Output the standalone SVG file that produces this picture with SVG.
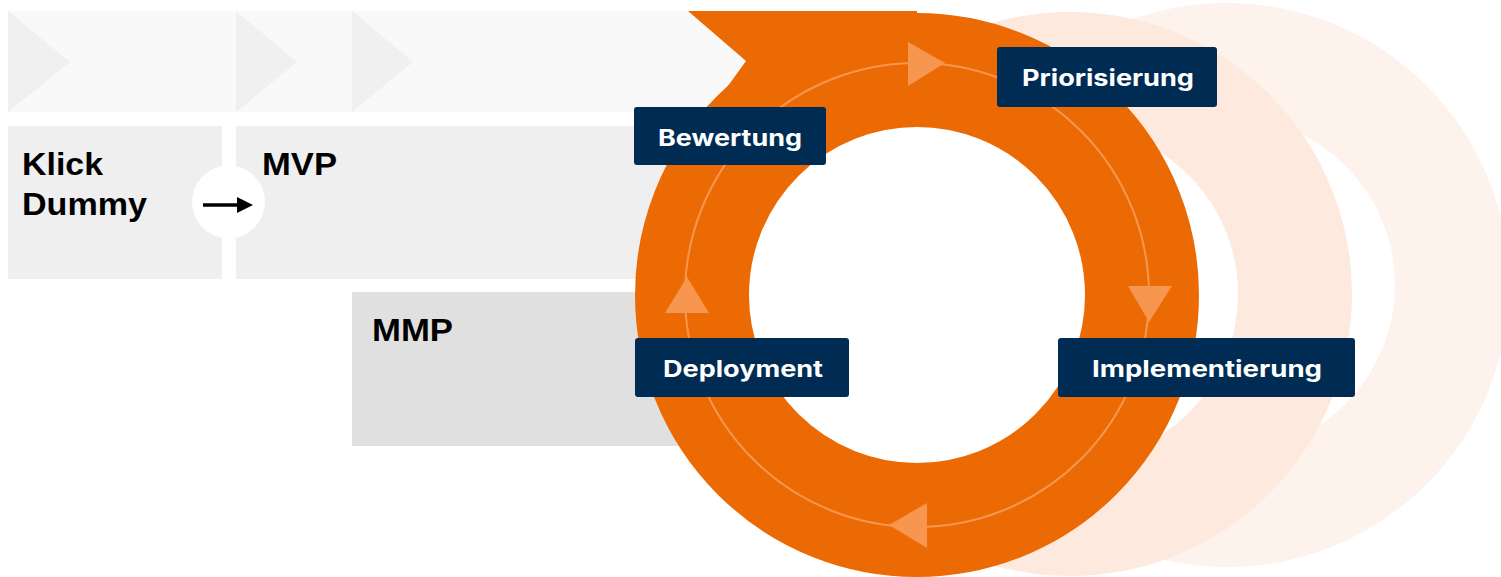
<svg xmlns="http://www.w3.org/2000/svg" width="1501" height="577" viewBox="0 0 1501 577">
<style>
.band{fill:#f9f9f9}
.chev{fill:#f0f0f0}
.box{fill:#efefef}
.box2{fill:#e0e0e0}
.phase{font-family:"Liberation Sans",Arial,sans-serif;font-weight:bold;font-size:31px;fill:#000}
.ring{fill:none;stroke-width:114}
.lbl{fill:#002c54}
.lbltxt{font-family:Inter,"Noto Sans",sans-serif;font-weight:700;font-size:23px;fill:#fff;text-anchor:middle}
.flow{fill:none;stroke:#f7964f;stroke-width:2}
.tri{fill:#f7964f}
</style>
<rect width="1501" height="577" fill="#fff"/>
<g id="timeline-band">
<rect class="band" x="8" y="11" width="909" height="101"/>
<polygon class="chev" points="8,11 70,62 8,112"/>
<polygon class="chev" points="236,11 297,62 236,112"/>
<polygon class="chev" points="352,11 413,62 352,112"/>
</g>
<g id="node-klick-dummy">
<rect class="box" x="8" y="126" width="214" height="153"/>
<text class="phase" x="22" y="175" textLength="81" lengthAdjust="spacingAndGlyphs">Klick</text>
<text class="phase" x="22" y="215" textLength="125" lengthAdjust="spacingAndGlyphs">Dummy</text>
</g>
<g id="node-mvp">
<rect class="box" x="236" y="126" width="484" height="153"/>
<text class="phase" x="262" y="175" textLength="75" lengthAdjust="spacingAndGlyphs">MVP</text>
</g>
<g id="node-mmp">
<rect class="box2" x="352" y="292" width="368" height="154"/>
<text class="phase" x="372" y="341" textLength="81" lengthAdjust="spacingAndGlyphs">MMP</text>
</g>
<g id="background-rings">
<circle class="ring" cx="1227" cy="285" r="225" stroke="#fdf2ec"/>
<circle class="ring" cx="1070" cy="294" r="225" stroke="#fde9dd"/>
</g>
<g id="cycle-ring">
<circle cx="917" cy="295" r="225" fill="#fff" stroke="#ec6a04" stroke-width="114"/>
<polygon fill="#ec6a04" points="688,11 917,11 917,100 680,200 660,180 746,61"/>
</g>
<g id="connectors">
<circle cx="228.5" cy="202" r="36.5" fill="#fff"/>
<line x1="203" y1="205" x2="239" y2="205" stroke="#000" stroke-width="3.5"/>
<polygon fill="#000" points="237,197 253,205 237,213"/>
<circle class="flow" cx="917" cy="295" r="232"/>
<polygon class="tri" points="908,42 945,63 908,86"/>
<polygon class="tri" points="1128,286 1172,286 1149,322"/>
<polygon class="tri" points="927,503 927,548 889,525"/>
<polygon class="tri" points="665,313 709,313 687,277"/>
</g>
<g id="node-bewertung">
<rect class="lbl" x="634" y="107" width="192" height="58" rx="3"/>
<text class="lbltxt" x="730" y="146" textLength="144" lengthAdjust="spacingAndGlyphs">Bewertung</text>
</g>
<g id="node-priorisierung">
<rect class="lbl" x="997" y="47" width="220" height="60" rx="3"/>
<text class="lbltxt" x="1108" y="86" textLength="172" lengthAdjust="spacingAndGlyphs">Priorisierung</text>
</g>
<g id="node-implementierung">
<rect class="lbl" x="1058" y="338" width="297" height="59" rx="3"/>
<text class="lbltxt" x="1207" y="377" textLength="230" lengthAdjust="spacingAndGlyphs">Implementierung</text>
</g>
<g id="node-deployment">
<rect class="lbl" x="635" y="338" width="214" height="59" rx="3"/>
<text class="lbltxt" x="743" y="377" textLength="160" lengthAdjust="spacingAndGlyphs">Deployment</text>
</g>
</svg>
